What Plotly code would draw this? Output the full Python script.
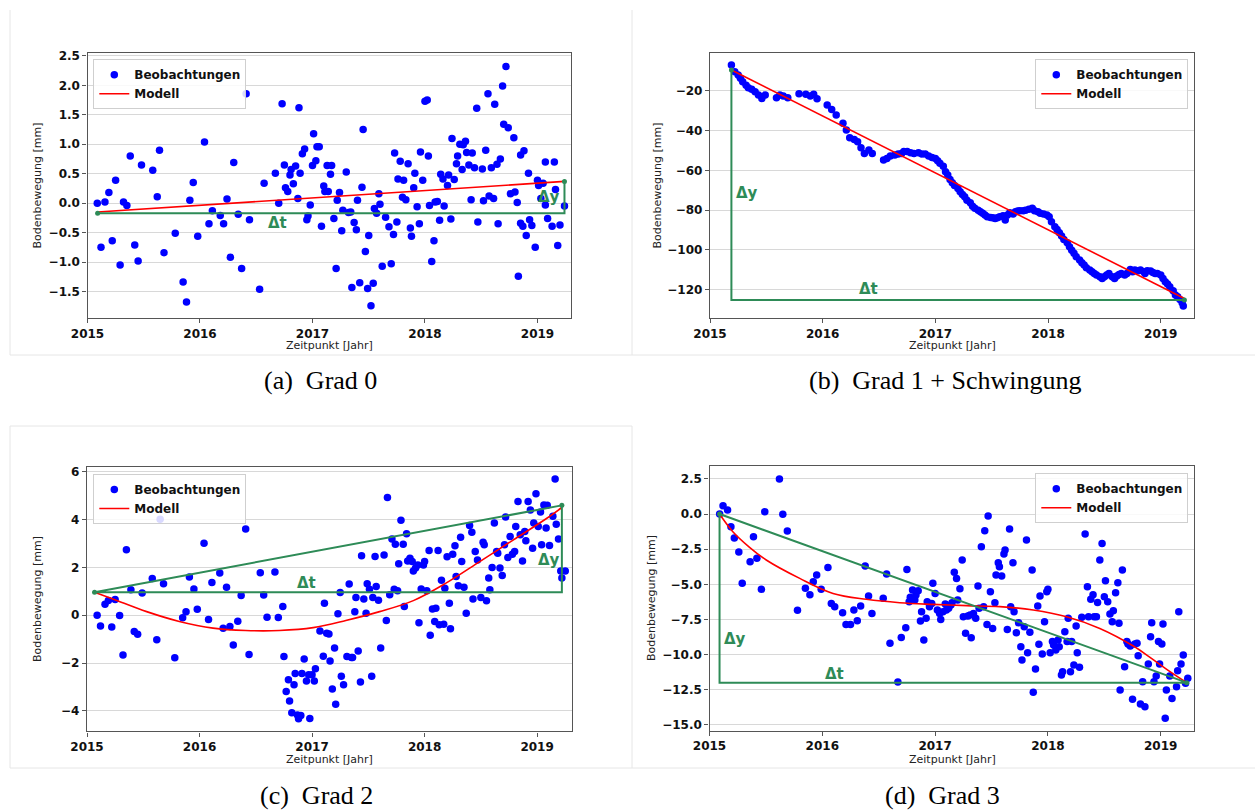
import plotly.graph_objects as go

W, H = 1255, 810

# ---------------- data (a) Grad 0 ----------------
a_t = [2015.087, 2015.12, 2015.155, 2015.19, 2015.22, 2015.25, 2015.29, 2015.32, 2015.35, 2015.38,
       2015.42, 2015.45, 2015.48, 2015.58, 2015.62, 2015.64, 2015.68, 2015.78, 2015.85, 2015.88,
       2015.91, 2015.94, 2015.98, 2016.04, 2016.08, 2016.11, 2016.18, 2016.21, 2016.24, 2016.27,
       2016.30, 2016.34, 2016.37, 2016.41, 2016.44, 2016.53, 2016.57, 2016.67, 2016.70, 2016.73,
       2016.75, 2016.76, 2016.78, 2016.80, 2016.81, 2016.83, 2016.85, 2016.87, 2016.88, 2016.89,
       2016.91, 2016.93, 2016.95, 2016.96, 2016.98, 2017.00, 2017.01, 2017.03, 2017.04, 2017.06,
       2017.08, 2017.10, 2017.11, 2017.13, 2017.14, 2017.16, 2017.17, 2017.19, 2017.21, 2017.22,
       2017.24, 2017.26, 2017.27, 2017.30, 2017.32, 2017.34, 2017.35, 2017.37, 2017.39, 2017.40,
       2017.42, 2017.44, 2017.45, 2017.47, 2017.49, 2017.50, 2017.52, 2017.54, 2017.55, 2017.57,
       2017.59, 2017.60, 2017.62, 2017.65, 2017.68, 2017.70, 2017.72, 2017.73, 2017.75, 2017.76,
       2017.78, 2017.80, 2017.81, 2017.83, 2017.85, 2017.87, 2017.88, 2017.90, 2017.91, 2017.93,
       2017.95, 2017.96, 2017.98, 2018.00, 2018.02, 2018.03, 2018.04, 2018.06, 2018.08, 2018.09,
       2018.11, 2018.13, 2018.14, 2018.16, 2018.17, 2018.20, 2018.21, 2018.23, 2018.24, 2018.26,
       2018.28, 2018.29, 2018.31, 2018.33, 2018.34, 2018.36, 2018.37, 2018.39, 2018.41, 2018.42,
       2018.44, 2018.46, 2018.47, 2018.51, 2018.52, 2018.54, 2018.56, 2018.57, 2018.59, 2018.61,
       2018.62, 2018.64, 2018.65, 2018.67, 2018.69, 2018.70, 2018.72, 2018.74, 2018.76, 2018.79,
       2018.80, 2018.82, 2018.83, 2018.85, 2018.85, 2018.87, 2018.88, 2018.90, 2018.92, 2018.93,
       2018.95, 2018.98, 2019.00, 2019.01, 2019.03, 2019.05, 2019.07, 2019.07, 2019.09, 2019.13,
       2019.15, 2019.16, 2019.18, 2019.20, 2019.24]
a_v = [0.0, -0.75, 0.02, 0.18, -0.64, 0.39, -1.05, 0.02, -0.04, 0.80,
       -0.71, -0.98, 0.65, 0.56, 0.11, 0.90, -0.84, -0.51, -1.34, -1.68,
       0.05, 0.35, -0.56, 1.04, -0.35, -0.13, -0.21, -0.35, 0.07, -0.92,
       0.69, -0.19, -1.11, 1.86, -0.28, -1.46, 0.34, 0.51, 0.0, 1.69,
       0.65, 0.26, 0.20, 0.48, 0.57, 0.33, 0.63, 0.08, 1.62, 0.51,
       0.84, 0.92, -0.28, -0.22, -0.03, 0.64, 1.18, 0.72, 0.96, 0.96,
       -0.39, 0.29, 0.20, 0.64, 0.20, 0.49, 0.64, -0.26, -1.11, 0.05,
       0.18, -0.47, -0.12, 0.53, -0.16, -0.15, -1.43, -0.33, -0.45, 0.05,
       -1.35, 0.27, 1.25, -0.82, -1.45, -0.55, -1.74, -1.36, -0.09, -0.17,
       0.16, -0.02, -1.07, -0.24, -0.40, -1.03, -0.53, 0.85, -0.32, 0.41,
       0.71, 0.10, 0.39, 0.06, 0.67, -0.42, -0.56, 0.26, 0.51, -0.06,
       -0.35, 0.87, 0.39, 1.73, 1.75, 0.80, -0.04, -0.99, -0.64, 0.02,
       0.03, -0.29, 0.49, 0.41, -0.05, 0.30, 0.48, -0.27, 1.10, 0.40,
       0.67, 0.80, 1.00, 0.57, 0.99, 1.05, 0.86, 0.65, 0.06, 0.85,
       0.60, 1.61, -0.32, 0.58, 0.04, 0.90, 1.86, 0.12, 0.60, 0.08,
       1.68, 0.66, -0.35, 0.75, 1.99, 1.34, 2.32, 1.28, 0.16, 1.11,
       0.19, 0.01, -1.24, -0.34, 0.82, -0.39, 0.89, -0.55, 0.51, -0.28,
       -0.38, -0.75, 0.39, 0.30, 0.08, 0.34, 0.70, -0.03, -0.26, -0.39,
       0.70, 0.23, -0.72, -0.37, -0.05]
a_model_t = [2015.09, 2019.24]
a_model_v = [-0.15, 0.37]
a_green_t = [2015.09, 2019.24, 2019.24]
a_green_v = [-0.17, -0.17, 0.37]

# ---------------- data (b) Grad 1 + Schwingung ----------------
b_t = [2015.19, 2015.22, 2015.25, 2015.27, 2015.29, 2015.32, 2015.34, 2015.37, 2015.40, 2015.43,
       2015.46, 2015.49, 2015.59, 2015.62, 2015.65, 2015.69, 2015.79, 2015.85, 2015.89, 2015.92,
       2015.95, 2016.04, 2016.08, 2016.12, 2016.18, 2016.21, 2016.24, 2016.28, 2016.31, 2016.34,
       2016.37, 2016.41, 2016.44, 2016.54, 2016.57, 2016.60, 2016.64, 2016.67, 2016.70, 2016.72,
       2016.75, 2016.78, 2016.81, 2016.85, 2016.88, 2016.91, 2016.94, 2016.97, 2017.00, 2017.02,
       2017.04, 2017.07, 2017.09, 2017.11, 2017.13, 2017.15, 2017.17, 2017.20, 2017.22, 2017.24,
       2017.26, 2017.28, 2017.31, 2017.33, 2017.35, 2017.38, 2017.40, 2017.42, 2017.44, 2017.46,
       2017.49, 2017.51, 2017.53, 2017.55, 2017.57, 2017.60, 2017.62, 2017.64, 2017.66, 2017.69,
       2017.71, 2017.73, 2017.75, 2017.78, 2017.80, 2017.83, 2017.86, 2017.88, 2017.91, 2017.93,
       2017.96, 2017.99, 2018.01, 2018.03, 2018.06, 2018.08, 2018.10, 2018.12, 2018.14, 2018.17,
       2018.19, 2018.21, 2018.23, 2018.25, 2018.28, 2018.30, 2018.32, 2018.34, 2018.37, 2018.39,
       2018.41, 2018.43, 2018.46, 2018.48, 2018.50, 2018.52, 2018.54, 2018.57, 2018.59, 2018.61,
       2018.63, 2018.65, 2018.68, 2018.70, 2018.73, 2018.75, 2018.77, 2018.80, 2018.82, 2018.85,
       2018.86, 2018.88, 2018.91, 2018.93, 2018.95, 2018.97, 2019.00, 2019.02, 2019.04, 2019.06,
       2019.08, 2019.11, 2019.13, 2019.15, 2019.17, 2019.19, 2019.20]
b_v = [-7.1, -10.5, -12.1, -13.8, -15.5, -17.2, -18.5, -19.3, -20.5, -22.2,
       -23.9, -22.2, -23.5, -22.2, -22.7, -23.5, -21.5, -21.8, -22.7, -21.8,
       -24.0, -27.2, -29.4, -32.2, -36.4, -39.8, -43.6, -44.5, -45.6, -48.6,
       -51.5, -49.8, -51.5, -54.8, -54.0, -52.8, -52.3, -51.8, -51.5, -50.6,
       -50.6, -51.2, -51.5, -51.2, -51.8, -51.8, -52.8, -53.5, -54.0, -55.2,
       -56.5, -57.9, -60.7, -62.4, -64.6, -66.2, -67.6, -69.1, -70.8, -72.1,
       -73.3, -75.0, -76.3, -78.0, -79.1, -80.0, -80.8, -81.6, -82.5, -83.3,
       -83.7, -83.8, -84.2, -83.8, -83.3, -82.8, -85.0, -82.5, -81.3, -82.0,
       -80.8, -80.5, -80.3, -80.3, -80.0, -79.6, -79.1, -80.3, -80.8, -81.6,
       -82.0, -82.5, -83.3, -85.8, -88.3, -89.7, -91.4, -93.0, -94.7, -96.4,
       -98.4, -100.1, -101.7, -103.4, -105.1, -106.4, -107.6, -108.9, -110.1, -110.9,
       -111.8, -112.6, -113.5, -114.3, -113.5, -112.6, -111.8, -113.5, -114.3, -113.1,
       -112.3, -111.8, -112.6, -111.8, -109.8, -110.9, -110.1, -110.5, -110.1, -110.9,
       -111.8, -110.5, -110.6, -111.3, -111.8, -111.8, -112.6, -114.3, -116.0, -117.1,
       -118.5, -120.5, -122.7, -123.5, -124.9, -126.5, -128.2]
b_model_t = [2015.19, 2019.21]
b_model_v = [-9.6, -124.4]
b_green_t = [2015.19, 2015.19, 2019.21]
b_green_v = [-9.6, -125.2, -125.2]

# ---------------- data (c) Grad 2 ----------------
c_t = [2015.09, 2015.12, 2015.16, 2015.19, 2015.22, 2015.25, 2015.29, 2015.32, 2015.35, 2015.39,
       2015.42, 2015.45, 2015.49, 2015.58, 2015.62, 2015.65, 2015.68, 2015.78, 2015.85, 2015.88,
       2015.91, 2015.95, 2015.98, 2016.04, 2016.08, 2016.11, 2016.18, 2016.21, 2016.24, 2016.27,
       2016.30, 2016.34, 2016.37, 2016.41, 2016.44, 2016.54, 2016.57, 2016.60, 2016.67, 2016.70,
       2016.74, 2016.75, 2016.77, 2016.79, 2016.80, 2016.82, 2016.84, 2016.85, 2016.87, 2016.88,
       2016.90, 2016.91, 2016.93, 2016.95, 2016.97, 2016.98, 2017.00, 2017.02, 2017.03, 2017.07,
       2017.10, 2017.11, 2017.13, 2017.15, 2017.16, 2017.18, 2017.20, 2017.21, 2017.23, 2017.25,
       2017.26, 2017.28, 2017.31, 2017.33, 2017.35, 2017.36, 2017.38, 2017.39, 2017.41, 2017.43,
       2017.44, 2017.46, 2017.48, 2017.49, 2017.51, 2017.53, 2017.54, 2017.56, 2017.57, 2017.59,
       2017.61, 2017.64, 2017.66, 2017.67, 2017.69, 2017.71, 2017.73, 2017.74, 2017.76, 2017.77,
       2017.79, 2017.81, 2017.82, 2017.84, 2017.85, 2017.87, 2017.89, 2017.90, 2017.92, 2017.94,
       2017.95, 2017.97, 2017.99, 2018.00, 2018.02, 2018.04, 2018.05, 2018.07, 2018.09, 2018.10,
       2018.12, 2018.13, 2018.15, 2018.17, 2018.18, 2018.20, 2018.22, 2018.23, 2018.25, 2018.27,
       2018.28, 2018.30, 2018.32, 2018.33, 2018.35, 2018.37, 2018.40, 2018.42, 2018.43, 2018.45,
       2018.47, 2018.50, 2018.52, 2018.53, 2018.55, 2018.57, 2018.58, 2018.60, 2018.62, 2018.64,
       2018.65, 2018.67, 2018.69, 2018.71, 2018.72, 2018.74, 2018.76, 2018.78, 2018.80, 2018.81,
       2018.83, 2018.85, 2018.87, 2018.89, 2018.90, 2018.92, 2018.94, 2018.96, 2018.97, 2018.99,
       2019.01, 2019.03, 2019.04, 2019.06, 2019.08, 2019.09, 2019.11, 2019.14, 2019.16, 2019.17,
       2019.19, 2019.21, 2019.22, 2019.25]
c_v = [0.0, -0.45, 0.46, 0.61, -0.49, 0.66, -0.01, -1.66, 2.73, 1.06,
       -0.68, -0.79, 0.93, 1.53, -1.03, 4.01, 1.31, -1.78, -0.11, 0.14,
       1.60, 1.10, 0.25, 3.01, -0.18, 1.37, 1.76, -0.54, 1.17, -0.47,
       -1.24, -0.25, 0.82, 3.60, -1.64, 1.77, 0.84, -0.08, 1.81, -0.10,
       0.36, -1.73, -3.19, -2.70, -3.58, -4.07, -2.91, -2.43, -4.17, -4.33,
       -4.19, -2.43, -1.83, -2.75, -2.49, -4.31, -2.49, -2.75, -2.24, -0.66,
       -1.71, 0.50, -0.75, -0.78, -1.91, -3.08, -1.37, -3.72, 0.06, 0.95,
       -2.55, -2.91, -1.73, 1.30, -1.77, -1.77, 0.14, 0.74, -1.49, -2.79,
       2.48, 0.68, 0.08, 1.31, 1.09, -2.55, 0.74, 2.45, 1.20, 0.63,
       -1.37, 2.52, -0.22, 4.92, 0.85, 3.18, 1.09, 2.97, 1.02, 2.15,
       3.97, 2.97, 0.36, 3.40, 2.27, 2.38, 2.24, 1.85, 1.97, 2.10,
       -0.31, 1.10, 2.10, 2.24, 1.02, 2.70, -0.84, 0.26, -0.26, 0.29,
       2.70, -0.40, 1.46, -0.38, 1.13, 2.44, 0.50, -0.57, 2.55, 2.90,
       1.62, 1.23, 3.26, 2.24, 1.17, 0.08, 3.75, 3.47, 0.68, 2.66,
       2.31, 0.74, 3.05, 2.94, 0.60, 1.55, 1.06, 1.99, 3.85, 2.66,
       2.59, 1.97, 1.66, 2.94, 4.10, 2.41, 3.29, 2.55, 2.66, 3.71,
       4.75, 3.36, 2.27, 3.50, 3.11, 4.75, 4.40, 2.80, 3.85, 5.07,
       3.71, 4.31, 2.94, 4.61, 3.64, 4.59, 2.91, 4.13, 5.69, 3.80,
       3.18, 1.85, 1.55, 1.85]
c_model_t = [2015.067, 2015.23, 2015.53, 2015.82, 2016.12, 2016.41, 2016.71, 2017.01,
             2017.30, 2017.60, 2017.90, 2018.19, 2018.49, 2018.79, 2019.08, 2019.22]
c_model_v = [0.96, 0.68, 0.15, -0.26, -0.54, -0.64, -0.64, -0.52,
             -0.22, 0.15, 0.61, 1.34, 2.24, 3.15, 4.03, 4.50]
c_green_t = [2015.067, 2019.22, 2019.22, 2015.067]
c_green_v = [0.96, 0.96, 4.59, 0.96]

# ---------------- data (d) Grad 3 ----------------
d_t = [2015.09, 2015.12, 2015.16, 2015.19, 2015.22, 2015.26, 2015.29, 2015.36, 2015.39, 2015.42,
       2015.46, 2015.49, 2015.62, 2015.65, 2015.69, 2015.78, 2015.85, 2015.89, 2015.92, 2015.95,
       2015.99, 2016.05, 2016.08, 2016.11, 2016.18, 2016.21, 2016.25, 2016.28, 2016.31, 2016.34,
       2016.38, 2016.41, 2016.44, 2016.54, 2016.57, 2016.60, 2016.67, 2016.70, 2016.74, 2016.75,
       2016.77, 2016.78, 2016.80, 2016.82, 2016.83, 2016.85, 2016.87, 2016.88, 2016.90, 2016.92,
       2016.93, 2016.95, 2016.97, 2016.98, 2017.00, 2017.02, 2017.04, 2017.05, 2017.07, 2017.09,
       2017.10, 2017.12, 2017.14, 2017.15, 2017.17, 2017.19, 2017.20, 2017.22, 2017.24, 2017.25,
       2017.27, 2017.29, 2017.31, 2017.32, 2017.34, 2017.36, 2017.38, 2017.39, 2017.41, 2017.43,
       2017.44, 2017.46, 2017.47, 2017.49, 2017.51, 2017.53, 2017.54, 2017.56, 2017.57, 2017.59,
       2017.61, 2017.62, 2017.64, 2017.66, 2017.67, 2017.69, 2017.70, 2017.72, 2017.74, 2017.76,
       2017.77, 2017.79, 2017.81, 2017.82, 2017.84, 2017.86, 2017.87, 2017.89, 2017.91, 2017.92,
       2017.93, 2017.95, 2017.97, 2017.99, 2018.00, 2018.02, 2018.04, 2018.05, 2018.07, 2018.09,
       2018.10, 2018.12, 2018.13, 2018.15, 2018.17, 2018.18, 2018.20, 2018.21, 2018.23, 2018.25,
       2018.26, 2018.28, 2018.30, 2018.33, 2018.35, 2018.36, 2018.38, 2018.40, 2018.41, 2018.43,
       2018.44, 2018.46, 2018.48, 2018.50, 2018.51, 2018.53, 2018.55, 2018.57, 2018.58, 2018.60,
       2018.62, 2018.63, 2018.64, 2018.66, 2018.68, 2018.70, 2018.71, 2018.73, 2018.75, 2018.77,
       2018.79, 2018.80, 2018.82, 2018.84, 2018.86, 2018.89, 2018.91, 2018.92, 2018.94, 2018.96,
       2018.98, 2018.99, 2019.01, 2019.02, 2019.04, 2019.05, 2019.08, 2019.10, 2019.14, 2019.15,
       2019.16, 2019.18, 2019.20, 2019.22, 2019.24]
d_v = [0.0, 0.59, 0.28, -0.90, -1.71, -2.70, -4.93, -3.39, -1.61, -3.15,
       -5.36, 0.17, 2.49, -0.02, -1.21, -6.85, -5.29, -5.74, -4.81, -4.34,
       -5.36, -3.80, -6.36, -6.59, -7.02, -7.87, -7.87, -6.83, -7.59, -6.55,
       -3.70, -5.83, -7.07, -6.00, -4.27, -9.20, -11.95, -8.78, -8.09, -3.94,
       -6.24, -5.93, -5.41, -6.12, -5.76, -5.46, -7.61, -6.95, -8.97, -7.42,
       -6.24, -6.59, -6.36, -4.93, -5.65, -6.83, -7.07, -7.50, -6.95, -6.40,
       -6.83, -6.71, -6.48, -6.31, -4.15, -4.58, -6.12, -5.31, -3.27, -7.31,
       -8.49, -7.26, -7.19, -8.80, -7.07, -7.42, -5.12, -6.71, -2.32, -6.59,
       -1.19, -7.87, -0.14, -5.53, -8.14, -6.31, -4.34, -3.46, -3.75, -4.41,
       -2.85, -2.56, -8.21, -1.07, -6.59, -3.46, -6.95, -8.44, -7.73, -9.44,
       -10.39, -8.02, -1.85, -9.87, -8.42, -3.98, -12.69, -11.03, -6.55, -9.27,
       -5.83, -9.96, -7.66, -5.53, -5.36, -9.87, -9.08, -9.32, -9.68, -8.97,
       -9.44, -11.46, -11.22, -8.37, -9.08, -7.42, -11.22, -9.08, -10.74, -7.97,
       -9.87, -10.91, -7.35, -1.42, -5.17, -7.31, -6.07, -5.74, -7.31, -7.31,
       -6.29, -3.27, -2.09, -5.88, -4.74, -6.24, -7.12, -7.66, -6.88, -5.60,
       -4.89, -7.78, -12.52, -3.98, -10.86, -9.08, -9.25, -9.39, -13.19, -9.25,
       -9.20, -10.08, -13.52, -11.93, -13.71, -10.67, -8.73, -7.73, -11.93, -11.53,
       -9.08, -10.67, -9.25, -7.83, -14.54, -12.52, -11.53, -13.12, -12.29, -11.15,
       -6.95, -10.67, -10.03, -12.05, -11.69]
d_model_t = [2015.089, 2015.207, 2015.355, 2015.503, 2015.80, 2016.095, 2016.39, 2016.686,
             2016.98, 2017.28, 2017.574, 2017.87, 2018.166, 2018.46, 2018.757, 2018.905,
             2019.053, 2019.231]
d_model_v = [0.0, -1.26, -2.37, -3.27, -4.58, -5.65, -6.07, -6.31,
             -6.43, -6.52, -6.59, -6.83, -7.31, -8.14, -9.39, -10.20,
             -11.05, -12.0]
d_green_t = [2015.089, 2015.089, 2019.231, 2015.089]
d_green_v = [0.0, -12.0, -12.0, 0.0]

# ---------------- styling ----------------
BLUE = "#0000ff"
RED = "#ff0000"
GREEN = "#2e8b57"
AX = "#555555"
GRID = "#d8d8d8"
TICKFONT = dict(family="DejaVu Sans", size=12, color="#111111", weight="bold")


def px_x(p):
    return p / W


def px_y(p):
    return 1 - p / H


panels = [
    dict(k="", t=a_t, v=a_v, mt=a_model_t, mv=a_model_v, gt=a_green_t, gv=a_green_v,
         xd=(87.5, 571), yd=(53, 318), xr=(2015.0, 2019.298), yr=(-1.95, 2.55),
         yt=[-1.5, -1.0, -0.5, 0.0, 0.5, 1.0, 1.5, 2.0, 2.5], fmt=".1f",
         leg="legend", lx=93.3, ly=59.3, lxa="left", spline=False,
         gend=[(a_green_t[0], a_green_v[0]), (a_green_t[2], a_green_v[2])],
         dt=(2016.69, -0.33), dy=(2019.1, 0.1)),
    dict(k="2", t=b_t, v=b_v, mt=b_model_t, mv=b_model_v, gt=b_green_t, gv=b_green_v,
         xd=(710, 1194), yd=(52.7, 318), xr=(2015.0, 2019.295), yr=(-134.2, -0.9),
         yt=[-120, -100, -80, -60, -40, -20], fmt="d",
         leg="legend2", lx=1188.3, ly=59.3, lxa="right", spline=False,
         gend=[(b_green_t[0], b_green_v[0]), (b_green_t[2], b_green_v[2])],
         dt=(2016.41, -119.5), dy=(2015.33, -71.3)),
    dict(k="3", t=c_t, v=c_v, mt=c_model_t, mv=c_model_v, gt=c_green_t, gv=c_green_v,
         xd=(87, 572), yd=(467.3, 731.3), xr=(2015.0, 2019.31), yr=(-4.85, 6.18),
         yt=[-4, -2, 0, 2, 4, 6], fmt="d",
         leg="legend3", lx=93.3, ly=474, lxa="left", spline=True,
         gend=[(c_green_t[0], c_green_v[0]), (c_green_t[2], c_green_v[2])],
         dt=(2016.95, 1.35), dy=(2019.11, 2.3)),
    dict(k="4", t=d_t, v=d_v, mt=d_model_t, mv=d_model_v, gt=d_green_t, gv=d_green_v,
         xd=(709.5, 1194), yd=(466, 730.7), xr=(2015.0, 2019.295), yr=(-15.42, 3.42),
         yt=[-15.0, -12.5, -10.0, -7.5, -5.0, -2.5, 0.0, 2.5], fmt=".1f",
         leg="legend4", lx=1188.3, ly=473.3, lxa="right", spline=True,
         gend=[(d_green_t[0], d_green_v[0]), (d_green_t[2], d_green_v[2])],
         dt=(2016.11, -11.35), dy=(2015.23, -8.9)),
]


def fmt_tick(v, f):
    s = str(int(v)) if f == "d" else format(v, f)
    return s.replace("-", "\u2212")


fig = go.Figure()
layout = dict(
    template="none",
    width=W, height=H, margin=dict(l=0, r=0, t=0, b=0, pad=0),
    paper_bgcolor="white", plot_bgcolor="white", showlegend=True,
    font=dict(family="DejaVu Sans", color="#111111"),
)
annotations = []
shapes = []

for p in panels:
    k = p["k"]
    xa, ya = "x" + k, "y" + k
    fig.add_trace(go.Scatter(x=p["t"], y=p["v"], mode="markers", name="Beobachtungen",
                             marker=dict(color=BLUE, size=7.5, line=dict(width=0)),
                             xaxis=xa, yaxis=ya, legend=p["leg"]))
    fig.add_trace(go.Scatter(x=p["mt"], y=p["mv"], mode="lines", name="Modell",
                             line=dict(color=RED, width=1.6,
                                       shape="spline" if p["spline"] else "linear"),
                             xaxis=xa, yaxis=ya, legend=p["leg"]))
    fig.add_trace(go.Scatter(x=p["gt"], y=p["gv"], mode="lines", showlegend=False,
                             line=dict(color=GREEN, width=2), xaxis=xa, yaxis=ya))
    fig.add_trace(go.Scatter(x=[e[0] for e in p["gend"]], y=[e[1] for e in p["gend"]],
                             mode="markers", showlegend=False,
                             marker=dict(color=GREEN, size=5), xaxis=xa, yaxis=ya,
                             cliponaxis=False))

    xkey = "xaxis" + k
    ykey = "yaxis" + k
    layout[xkey] = dict(
        domain=[px_x(p["xd"][0]), px_x(p["xd"][1])], anchor=ya, range=list(p["xr"]),
        automargin=False,
        tickmode="array", tickvals=[2015, 2016, 2017, 2018, 2019],
        ticktext=["2015", "2016", "2017", "2018", "2019"],
        showgrid=False, zeroline=False, showline=True, mirror=True,
        linecolor=AX, linewidth=1.4, ticks="outside", ticklen=4, tickcolor=AX,
        tickwidth=1, tickfont=TICKFONT,
    )
    layout[ykey] = dict(
        domain=[px_y(p["yd"][1]), px_y(p["yd"][0])], anchor=xa, range=list(p["yr"]),
        automargin=False,
        tickmode="array", tickvals=p["yt"],
        ticktext=[fmt_tick(v, p["fmt"]) for v in p["yt"]],
        showgrid=True, gridcolor=GRID, gridwidth=1.3, zeroline=False,
        showline=True, mirror=True, linecolor=AX, linewidth=1.4,
        ticks="outside", ticklen=4, tickcolor=AX, tickwidth=1, tickfont=TICKFONT,
    )
    layout[p["leg"]] = dict(
        x=px_x(p["lx"]), y=px_y(p["ly"]), xanchor=p["lxa"], yanchor="top",
        bgcolor="rgba(255,255,255,0.85)", bordercolor="#cfcfcf", borderwidth=1,
        font=dict(family="DejaVu Sans", size=12, color="#111111", weight="bold"),
        tracegroupgap=0, itemwidth=30,
    )
    annotations.append(dict(x=p["dt"][0], y=p["dt"][1], xref=xa, yref=ya, text="\u0394t",
                            showarrow=False, xanchor="center", yanchor="middle",
                            font=dict(family="DejaVu Sans", size=15,
                                      color=GREEN, weight="bold")))
    annotations.append(dict(x=p["dy"][0], y=p["dy"][1], xref=xa, yref=ya, text="\u0394y",
                            showarrow=False, xanchor="center", yanchor="middle",
                            font=dict(family="DejaVu Sans", size=15,
                                      color=GREEN, weight="bold")))

# axis titles
ytitles = [(37, 185.5), (657, 185.5), (37, 599), (651, 598)]
for (x, y) in ytitles:
    annotations.append(dict(x=px_x(x), y=px_y(y), xref="paper", yref="paper",
                            xanchor="center", yanchor="middle",
                            text="Bodenbewegung [mm]", textangle=-90, showarrow=False,
                            font=dict(family="DejaVu Sans", size=11, color="#222222")))
xtitles = [(329, 345), (952, 345), (329, 759), (952, 759)]
for (x, y) in xtitles:
    annotations.append(dict(x=px_x(x), y=px_y(y), xref="paper", yref="paper",
                            xanchor="center", yanchor="middle",
                            text="Zeitpunkt [Jahr]", showarrow=False,
                            font=dict(family="DejaVu Sans", size=11, color="#222222")))

# captions
captions = [("(a)\u2002Grad 0", 320, 381), ("(b)\u2002Grad 1 + Schwingung", 945, 381),
            ("(c)\u2002Grad 2", 316, 795), ("(d)\u2002Grad 3", 942, 795)]
for (txt, x, y) in captions:
    annotations.append(dict(x=px_x(x), y=px_y(y), xref="paper", yref="paper", text=txt,
                            showarrow=False, xanchor="center", yanchor="middle",
                            font=dict(family="Liberation Serif", size=26, color="#000000")))

# faint image borders
BORDER = "#e6e6e6"
border_lines = [
    (10, 10, 10, 355), (632, 10, 632, 355), (10, 355, 1255, 355),
    (10, 426, 632, 426), (10, 426, 10, 768), (632, 426, 632, 768), (10, 768, 1255, 768),
]
for (x0, y0, x1, y1) in border_lines:
    shapes.append(dict(type="line", xref="paper", yref="paper",
                       x0=px_x(x0), y0=px_y(y0), x1=px_x(x1), y1=px_y(y1),
                       line=dict(color=BORDER, width=1), layer="below"))

layout["annotations"] = annotations
layout["shapes"] = shapes
fig.update_layout(**layout)
fig.write_html("out.html")
